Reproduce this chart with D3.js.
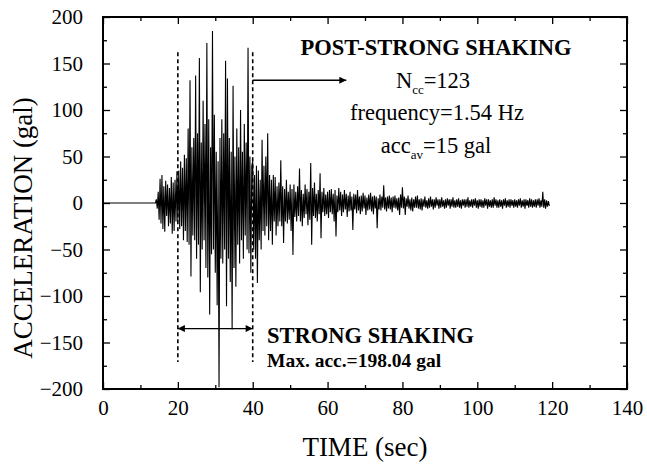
<!DOCTYPE html>
<html>
<head>
<meta charset="utf-8">
<script src="https://cdnjs.cloudflare.com/ajax/libs/d3/7.8.5/d3.min.js"></script>
<style>
    body { margin: 0; background: #fff; }
    svg text { font-family: 'Liberation Serif', 'Times New Roman', serif; fill: #000; }
</style>
</head>
<body>
<script>
// tick values of both axes
var xTicks = [0, 20, 40, 60, 80, 100, 120, 140];
var xMinorTicks = [10, 30, 50, 70, 90, 110, 130];
var yTicks = [-200, -150, -100, -50, 0, 50, 100, 150, 200];
var yMinorTicks = [-175, -125, -75, -25, 25, 75, 125, 175];

// accelerogram (gal), one value every sampleStep seconds
var sampleStep = 0.25;
var quietTimes = [0, 14];
var quietAcc = [0, 0];

var onsetStart = 14;
var accOnset = [0, 4, -6, 12, -18, 26, -22, 30, -28, 18, -31, 24, -14, 20, -25, 16, -22, 28, -33, 22, -30, 25, -20, 34];

var strongStart = 20;
var accStrong = [-20, 35, -28, 45, -25, 38, -40, 52, -30, 48,
    -42, 80, -45, 132, -79, 60, -35, 70, -40, 137,
    -60, 75, -45, 156, -96, 65, -50, 110, -40, 85,
    -70, 172, -80, 90, -120, 60, -55, 185, -50, 95,
    -75, 55, -110, 45, -198, 70, -60, 90, -65, 75,
    -50, 153, -111, 134, -60, 70, -85, 55, -136, 126,
    -70, 50, -90, 80, -45, 60, -65, 100, -40, 55,
    -60, 85, -35, 65, -50, 167, -54, 50, -75, 40];

var decayStart = 40;
var accDecay = [45, -50, 30, -60, 40, -86, 35, -40, 25, -50,
    68, -30, 40, -35, 50, -25, 75, -40, 30, -30,
    25, -45, 30, -20, 28, -35, 18, -25, 22, -20,
    46, -25, 18, -43, 15, -20, 25, -22, 12, -18,
    20, -30, 15, -56, 20, -15, 12, -20, 18, -14,
    37, -20, 14, -25, 10, -16, 20, -12, 15, -24,
    12, -18, 43, -45, 16, -14, 22, -16, 10, -20,
    14, -12, 32, -38, 12, -10, 16, -14, 9, -12];

var codaStart = 60;
var accCoda = [12, -16, 14, -10, 15, -12, 10, -20, 14, -36,
    8, -10, 16, -8, 12, -14, 9, -10, 14, -7,
    10, -15, 8, -9, 12, -8, 7, -29, 10, -7,
    9, -11, 14, -8, 7, -12, 8, -9, 11, -6,
    8, -13, 6, -8, 9, -7, 11, -9, 7, -12,
    8, -6, 7, -27, 5, -7, 9, -8, 7, -5,
    19, -7, 6, -9, 7, -6, 8, -7, 6, -10,
    7, -5, 8, -6, 5, -8, 6, -13, 9, -5];

var tailStart = 80;
var accTail = [17, -6, 7, -13, 5, -4, 8, -6, 4, -8, 6, -9, 4, -5, 7, -5, 8, -6, 4, -7,
    5, -8, 4, -4, 7, -5, 3, -6, 5, -5, 7, -4, 4, -7, 4, -5, 6, -3, 4, -6,
    4, -5, 6, -4, 3, -6, 4, -5, 5, -3, 4, -6, 4, -4, 6, -5, 3, -5, 4, -4,
    5, -5, 3, -6, 4, -3, 4, -5, 4, -4, 6, -5, 3, -4, 4, -5, 4, -3, 5, -5,
    3, -6, 4, -4, 4, -5, 3, -5, 5, -3, 4, -6, 4, -4, 3, -5, 4, -5, 6, -3,
    4, -5, 3, -5, 4, -4, 3, -6, 4, -3, 5, -5, 3, -4, 4, -5, 4, -3, 3, -5,
    4, -4, 3, -5, 4, -3, 5, -5, 3, -4, 4, -6, 4, -3, 3, -5, 5, -4, 4, -5,
    3, -4, 4, -5, 4, -3, 5, -5, 3, -4, 12, -5, 4, -6, 3, -4, 2, -3];

// bracketing of the strong shaking (sec) and the marker levels (gal)
var strongWindow = [20, 40];
var dashTop = 162, dashBottom = -171;
var postArrowEnd = 65, postArrowLevel = 132;
var strongArrowLevel = -135;

var width = 647, height = 467;
var plot = { left: 103, right: 627, top: 17, bottom: 389 };
var serif = "'Liberation Serif', 'Times New Roman', serif";

var svg = d3.select('body').append('svg')
    .attr('width', width)
    .attr('height', height);

var x = d3.scaleLinear().domain([0, 140]).range([plot.left, plot.right]);
var y = d3.scaleLinear().domain([-200, 200]).range([plot.bottom, plot.top]);

// put all the segments together into one list of points
var points = [];
quietTimes.forEach(function (t, i) { points.push([t, quietAcc[i]]); });
[[onsetStart, accOnset], [strongStart, accStrong], [decayStart, accDecay], [codaStart, accCoda], [tailStart, accTail]]
    .forEach(function (seg) {
        seg[1].forEach(function (a, i) {
            points.push([seg[0] + i * sampleStep, a]);
        });
    });

var line = d3.line()
    .x(function (d) { return x(d[0]); })
    .y(function (d) { return y(d[1]); });

svg.append('path')
    .datum(points)
    .attr('d', line)
    .attr('fill', 'none')
    .attr('stroke', '#000')
    .attr('stroke-width', 1.1);

// axes, ticks point inwards on all four sides
function styleAxis(g) {
    g.select('.domain').remove();
    g.selectAll('.tick line').attr('stroke', '#000').attr('stroke-width', 1.3);
    g.selectAll('.tick text')
        .style('font-family', serif)
        .style('font-size', '21px')
        .attr('fill', '#000');
}

svg.append('g')
    .attr('transform', 'translate(0,' + plot.bottom + ')')
    .call(d3.axisBottom(x).tickValues(xTicks).tickSizeInner(-7).tickSizeOuter(0).tickPadding(11).tickFormat(d3.format('d')))
    .call(styleAxis);
svg.append('g')
    .attr('transform', 'translate(0,' + plot.bottom + ')')
    .call(d3.axisBottom(x).tickValues(xMinorTicks).tickSizeInner(-4).tickSizeOuter(0).tickFormat(''))
    .call(styleAxis);
svg.append('g')
    .attr('transform', 'translate(0,' + plot.top + ')')
    .call(d3.axisTop(x).tickValues(xTicks).tickSizeInner(-7).tickSizeOuter(0).tickFormat(''))
    .call(styleAxis);
svg.append('g')
    .attr('transform', 'translate(0,' + plot.top + ')')
    .call(d3.axisTop(x).tickValues(xMinorTicks).tickSizeInner(-4).tickSizeOuter(0).tickFormat(''))
    .call(styleAxis);

svg.append('g')
    .attr('transform', 'translate(' + plot.left + ',0)')
    .call(d3.axisLeft(y).tickValues(yTicks).tickSizeInner(-7).tickSizeOuter(0).tickPadding(20).tickFormat(d3.format('d')))
    .call(styleAxis);
svg.append('g')
    .attr('transform', 'translate(' + plot.left + ',0)')
    .call(d3.axisLeft(y).tickValues(yMinorTicks).tickSizeInner(-4).tickSizeOuter(0).tickFormat(''))
    .call(styleAxis);
svg.append('g')
    .attr('transform', 'translate(' + plot.right + ',0)')
    .call(d3.axisRight(y).tickValues(yTicks).tickSizeInner(-7).tickSizeOuter(0).tickFormat(''))
    .call(styleAxis);
svg.append('g')
    .attr('transform', 'translate(' + plot.right + ',0)')
    .call(d3.axisRight(y).tickValues(yMinorTicks).tickSizeInner(-4).tickSizeOuter(0).tickFormat(''))
    .call(styleAxis);

// frame
svg.append('rect')
    .attr('x', plot.left)
    .attr('y', plot.top)
    .attr('width', plot.right - plot.left)
    .attr('height', plot.bottom - plot.top)
    .attr('fill', 'none')
    .attr('stroke', '#000')
    .attr('stroke-width', 2);

// axis titles
svg.append('text')
    .attr('x', (plot.left + plot.right) / 2)
    .attr('y', 456)
    .attr('text-anchor', 'middle')
    .attr('font-size', 27)
    .text('TIME (sec)');

svg.append('text')
    .attr('transform', 'translate(32,228) rotate(-90)')
    .attr('text-anchor', 'middle')
    .attr('font-size', 27)
    .text('ACCELERATION (gal)');

// arrow heads
var defs = svg.append('defs');
defs.append('marker')
    .attr('id', 'head')
    .attr('viewBox', '0 0 10 10')
    .attr('refX', 10)
    .attr('refY', 5)
    .attr('markerWidth', 9)
    .attr('markerHeight', 7)
    .attr('markerUnits', 'userSpaceOnUse')
    .attr('orient', 'auto-start-reverse')
    .append('path')
    .attr('d', 'M0,0L10,5L0,10Z')
    .attr('fill', '#000');

// dashed bounds of strong shaking
svg.selectAll('.bound')
    .data(strongWindow)
    .enter().append('line')
    .attr('class', 'bound')
    .attr('x1', function (d) { return x(d); })
    .attr('x2', function (d) { return x(d); })
    .attr('y1', y(dashTop))
    .attr('y2', y(dashBottom))
    .attr('stroke', '#000')
    .attr('stroke-width', 1.6)
    .attr('stroke-dasharray', '4,3');

svg.append('line')
    .attr('x1', x(strongWindow[1]))
    .attr('x2', x(postArrowEnd))
    .attr('y1', y(postArrowLevel))
    .attr('y2', y(postArrowLevel))
    .attr('stroke', '#000')
    .attr('stroke-width', 1.3)
    .attr('marker-end', 'url(#head)');

svg.append('line')
    .attr('x1', x(strongWindow[0]))
    .attr('x2', x(strongWindow[1]))
    .attr('y1', y(strongArrowLevel))
    .attr('y2', y(strongArrowLevel))
    .attr('stroke', '#000')
    .attr('stroke-width', 1.3)
    .attr('marker-start', 'url(#head)')
    .attr('marker-end', 'url(#head)');

// post-strong shaking notes
svg.append('text')
    .attr('x', 436)
    .attr('y', 55)
    .attr('text-anchor', 'middle')
    .attr('font-size', 22.5)
    .attr('font-weight', 'bold')
    .text('POST-STRONG SHAKING');

var ncc = svg.append('text')
    .attr('x', 433)
    .attr('y', 88)
    .attr('text-anchor', 'middle')
    .attr('font-size', 22.5);
ncc.append('tspan').text('N');
ncc.append('tspan').attr('font-size', 13).attr('dy', 6).text('cc');
ncc.append('tspan').attr('dy', -6).text('=123');

svg.append('text')
    .attr('x', 437)
    .attr('y', 120)
    .attr('text-anchor', 'middle')
    .attr('font-size', 22.5)
    .text('frequency=1.54 Hz');

var accav = svg.append('text')
    .attr('x', 436)
    .attr('y', 153)
    .attr('text-anchor', 'middle')
    .attr('font-size', 22.5);
accav.append('tspan').text('acc');
accav.append('tspan').attr('font-size', 13).attr('dy', 6).text('av');
accav.append('tspan').attr('dy', -6).text('=15 gal');

// strong shaking notes
svg.append('text')
    .attr('x', 267)
    .attr('y', 343)
    .attr('font-size', 22.5)
    .attr('font-weight', 'bold')
    .text('STRONG SHAKING');

svg.append('text')
    .attr('x', 267)
    .attr('y', 367)
    .attr('font-size', 19.5)
    .attr('font-weight', 'bold')
    .text('Max. acc.=198.04 gal');
</script>
</body>
</html>
